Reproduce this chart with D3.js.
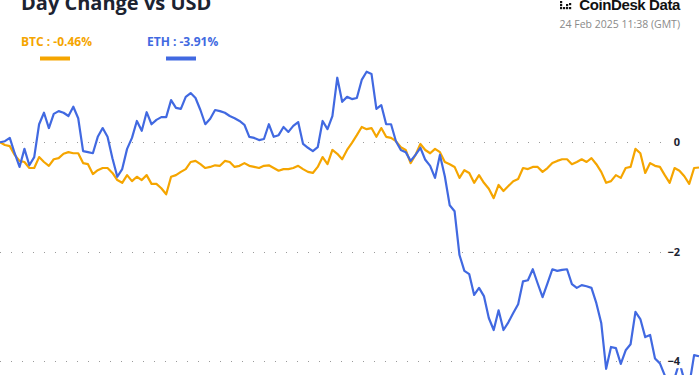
<!DOCTYPE html>
<html>
<head>
<meta charset="utf-8">
<script src="https://cdn.jsdelivr.net/npm/d3@7"></script>
<style>
  html, body { margin: 0; padding: 0; background: #fff; overflow: hidden; }
  svg { display: block; font-family: "Open Sans", sans-serif; }
</style>
</head>
<body>
<svg id="viz" width="700" height="375"></svg>
<script>
// day change in %, one point every ~10 min
var btc = [0, -0.05, -0.07, -0.23, -0.34, -0.36, -0.47, -0.47, -0.27, -0.36,
	-0.43, -0.31, -0.29, -0.21, -0.18, -0.20, -0.20, -0.38, -0.40, -0.58,
	-0.51, -0.47, -0.47, -0.56, -0.69, -0.74, -0.60, -0.71, -0.63, -0.69,
	-0.60, -0.76, -0.76, -0.84, -0.95, -0.63, -0.60, -0.54, -0.49, -0.36,
	-0.34, -0.40, -0.47, -0.45, -0.42, -0.43, -0.34, -0.36, -0.45, -0.43,
	-0.38, -0.43, -0.45, -0.47, -0.43, -0.42, -0.47, -0.52, -0.49, -0.49,
	-0.47, -0.43, -0.49, -0.54, -0.56, -0.45, -0.27, -0.40, -0.14, -0.21,
	-0.31, -0.14, -0.01, 0.13, 0.28, 0.24, 0.26, 0.10, 0.26, 0.10,
	0.08, 0.02, -0.09, -0.14, -0.38, -0.23, -0.03, -0.14, -0.20, -0.12,
	-0.18, -0.36, -0.40, -0.45, -0.65, -0.51, -0.56, -0.74, -0.60, -0.74,
	-0.85, -1.02, -0.78, -0.89, -0.80, -0.71, -0.67, -0.47, -0.49, -0.45,
	-0.45, -0.54, -0.47, -0.38, -0.34, -0.31, -0.31, -0.40, -0.36, -0.31,
	-0.36, -0.29, -0.40, -0.54, -0.74, -0.71, -0.60, -0.65, -0.47, -0.45,
	-0.12, -0.20, -0.56, -0.38, -0.43, -0.45, -0.60, -0.74, -0.47, -0.52,
	-0.62, -0.76, -0.47, -0.46];

var eth = [0, 0.02, 0.08, -0.20, -0.45, -0.12, -0.42, -0.27, 0.33, 0.54,
	0.26, 0.52, 0.57, 0.54, 0.48, 0.65, 0.44, -0.16, -0.18, -0.20,
	0.10, 0.26, 0.10, -0.29, -0.63, -0.49, -0.12, 0.08, 0.39, 0.21,
	0.55, 0.33, 0.41, 0.46, 0.46, 0.77, 0.63, 0.61, 0.83, 0.90,
	0.81, 0.59, 0.33, 0.43, 0.59, 0.57, 0.54, 0.48, 0.44, 0.39,
	0.32, 0.10, 0.08, 0.04, 0.06, 0.33, 0.10, 0.13, 0.28, 0.19,
	0.30, 0.37, -0.03, -0.10, -0.16, -0.09, 0.39, 0.24, 0.48, 1.18,
	0.74, 0.83, 0.79, 0.81, 1.14, 1.29, 1.25, 0.61, 0.68, 0.33,
	0.33, 0.02, -0.14, -0.18, -0.34, -0.23, -0.10, -0.32, -0.43, -0.65,
	-0.23, -0.62, -1.15, -1.26, -2.06, -2.35, -2.41, -2.79, -2.66, -2.81,
	-3.21, -3.43, -3.07, -3.43, -3.29, -3.12, -2.96, -2.54, -2.52, -2.32,
	-2.58, -2.83, -2.58, -2.32, -2.35, -2.33, -2.32, -2.59, -2.66, -2.61,
	-2.63, -2.66, -2.94, -3.30, -4.14, -3.74, -3.76, -4.05, -3.80, -3.69,
	-3.10, -3.23, -3.56, -3.52, -3.95, -4.04, -4.26, -4.44, -4.31, -4.02,
	-4.35, -4.44, -3.89, -3.91];

var yTicks = [0, -2, -4];
var legend = [
	{name: 'BTC', label: 'BTC : -0.46%', color: '#f5a500', data: btc},
	{name: 'ETH', label: 'ETH : -3.91%', color: '#4169e1', data: eth}
];

var viz = d3.select('#viz');

var x = d3.scaleLinear().domain([0, btc.length - 1]).range([0, 699]);
var y = d3.scaleLinear().domain([0, -4]).range([142.3, 361.2]);

// grid (dotted)
var grid = viz.append('g');
yTicks.forEach(function(t) {
	grid.append('line')
		.attr('x1', 0).attr('x2', 693)
		.attr('y1', Math.round(y(t)) + 0.5).attr('y2', Math.round(y(t)) + 0.5)
		.attr('stroke', '#9a9a9a')
		.attr('stroke-width', 1)
		.attr('stroke-dasharray', '1,10');
});

// lines
var line = d3.line()
	.x(function(d, i) { return x(i); })
	.y(function(d) { return y(d); });

legend.forEach(function(s) {
	viz.append('path')
		.datum(s.data)
		.attr('d', line)
		.attr('fill', 'none')
		.attr('stroke', s.color)
		.attr('stroke-width', 2.2)
		.attr('stroke-linejoin', 'round');
});

// y axis labels on the right, over the grid
var axis = viz.append('g')
	.attr('transform', 'translate(680,0)')
	.call(d3.axisLeft(y).tickValues(yTicks).tickFormat(d3.format('d')).tickSize(0).tickPadding(0));
axis.select('.domain').remove();
axis.selectAll('text')
	.attr('font-family', '"Open Sans", sans-serif')
	.attr('font-size', 11)
	.attr('font-weight', 700)
	.attr('fill', '#1c2331')
	.each(function() {
		var bb = this.getBBox();
		d3.select(this.parentNode).insert('rect', 'text')
			.attr('x', bb.x - 4).attr('y', bb.y)
			.attr('width', bb.width + 8).attr('height', bb.height)
			.attr('fill', '#fff');
	});

// title (cut at the top)
viz.append('text')
	.attr('x', 21).attr('y', 9.5)
	.attr('font-size', 20)
	.attr('font-weight', 700)
	.attr('fill', '#1c2331')
	.text('Day Change vs USD');

// legend
legend.forEach(function(s, i) {
	var lx = 21 + i * 126;
	viz.append('text')
		.attr('x', lx).attr('y', 45.5)
		.attr('font-size', 12)
		.attr('font-weight', 700)
		.attr('fill', s.color)
		.text(s.label);
	viz.append('rect')
		.attr('x', lx + 19).attr('y', 56.5)
		.attr('width', 30).attr('height', 4)
		.attr('fill', s.color);
});

// brand + timestamp
var brand = viz.append('g');
var dots = [[0, 0], [0, 3], [0, 6], [3, 6], [6, 6], [6, 3], [9, 2], [9, 6]];
dots.forEach(function(d) {
	brand.append('rect')
		.attr('x', 560 + d[0]).attr('y', 1 + d[1])
		.attr('width', 2.2).attr('height', 2.2)
		.attr('fill', '#111');
});
brand.append('text')
	.attr('x', 680).attr('y', 9.5)
	.attr('text-anchor', 'end')
	.attr('font-family', '"Liberation Sans", Arial, sans-serif')
	.attr('font-size', 15)
	.attr('font-weight', 700)
	.attr('letter-spacing', -0.4)
	.attr('fill', '#111')
	.text('CoinDesk Data');
viz.append('text')
	.attr('x', 680).attr('y', 28)
	.attr('text-anchor', 'end')
	.attr('font-size', 10.5)
	.attr('fill', '#8a8a8a')
	.text('24 Feb 2025 11:38 (GMT)');
</script>
</body>
</html>
